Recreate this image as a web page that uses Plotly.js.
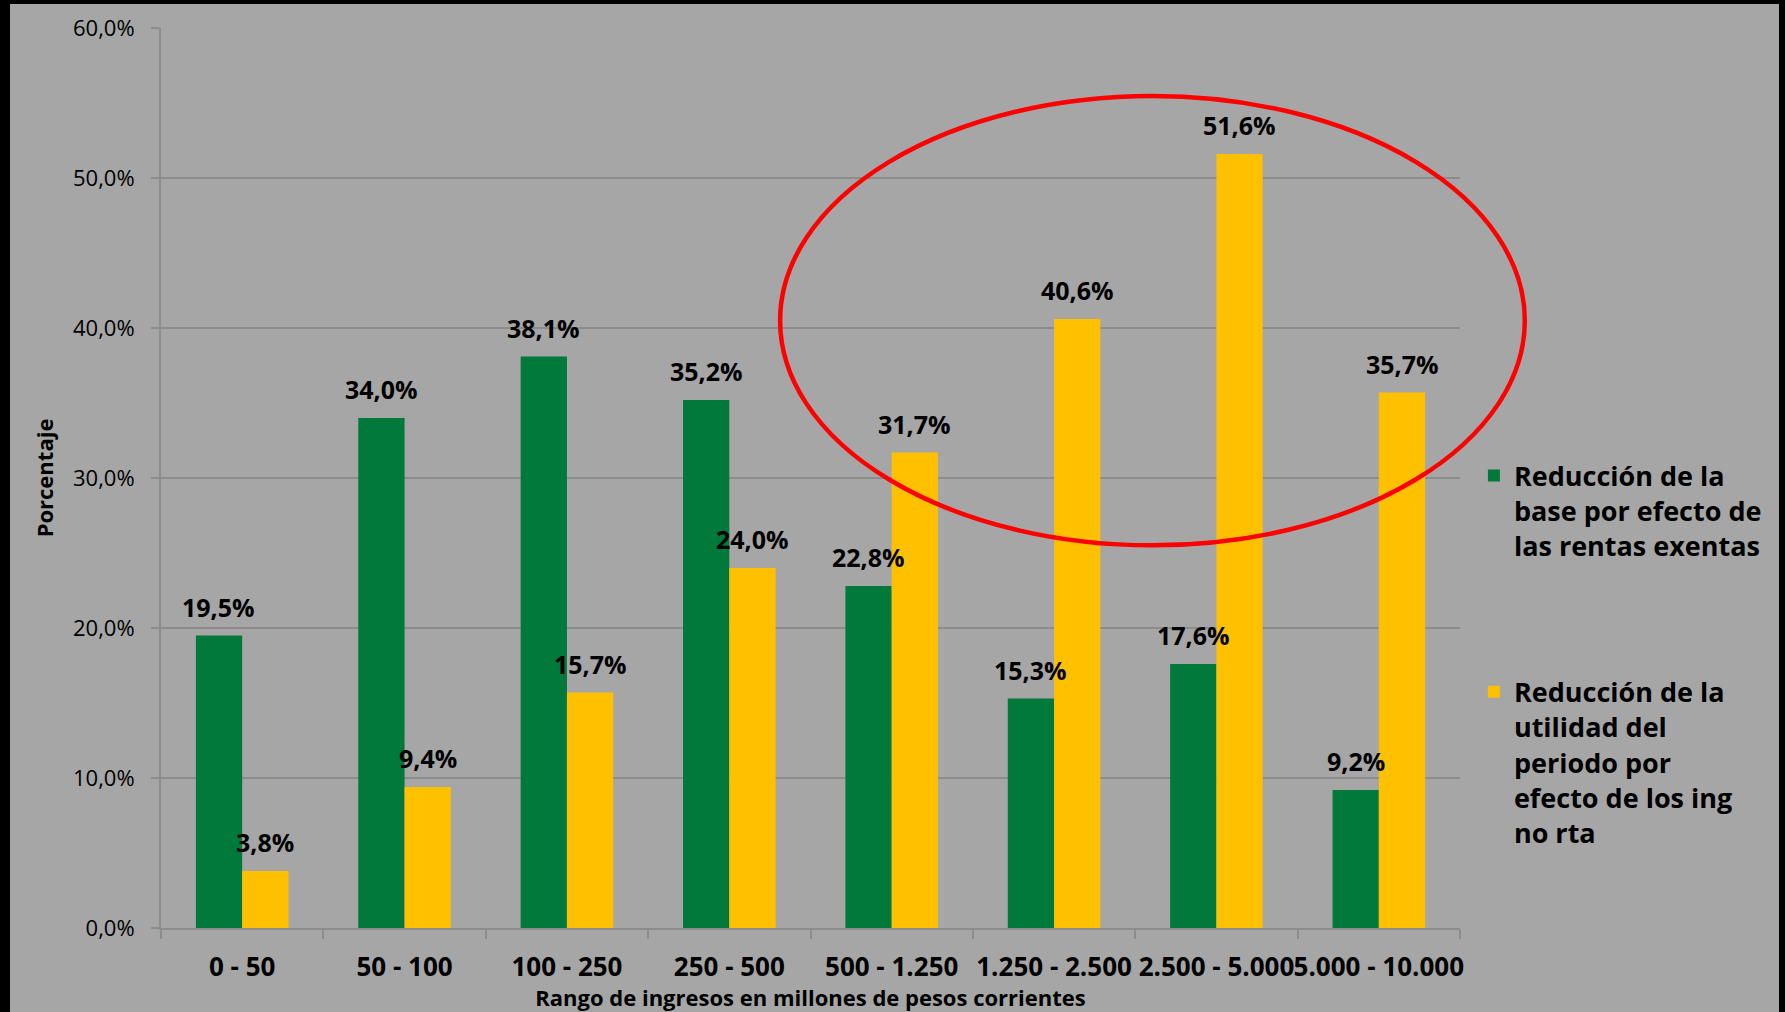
<!DOCTYPE html>
<html>
<head>
<meta charset="utf-8">
<script src="https://cdn.plot.ly/plotly-3.0.1.min.js"></script>
<style>
  html, body { margin: 0; padding: 0; background: #000; width: 1785px; height: 1012px; overflow: hidden; }
  #chart { position: absolute; left: 10px; top: 4px; width: 1769px; height: 1008px; }
</style>
</head>
<body>
<div id="chart"></div>
<script>
// ---- Data ----
const categories = ["0 - 50", "50 - 100", "100 - 250", "250 - 500", "500 - 1.250", "1.250 - 2.500", "2.500 - 5.000", "5.000 - 10.000"];
const seriesBaseName = "Reducción de la<br>base por efecto de<br>las rentas exentas";
const seriesBaseValues = [19.5, 34.0, 38.1, 35.2, 22.8, 15.3, 17.6, 9.2];
const seriesUtilName = "Reducción de la<br>utilidad del<br>periodo por<br>efecto de los ing<br>no rta";
const seriesUtilValues = [3.8, 9.4, 15.7, 24.0, 31.7, 40.6, 51.6, 35.7];
const yTickValues = [0, 10, 20, 30, 40, 50, 60];

// ---- Styles ----
const GREEN = "#00793A";
const YELLOW = "#FFC000";
const GRID = "#8C8C8C";
const BG = "#A6A6A6";
const FONT = "'Open Sans', 'DejaVu Sans', sans-serif";

function fmt(v) { return v.toFixed(1).replace(".", ",") + "%"; }

const traces = [
  { type: "bar", name: seriesBaseName, x: categories, y: seriesBaseValues,
    marker: { color: GREEN }, legendgroup: "g1", hoverinfo: "x+y" },
  { type: "bar", name: seriesUtilName, x: categories, y: seriesUtilValues,
    marker: { color: YELLOW }, legendgroup: "g2", hoverinfo: "x+y" }
];

// data labels via annotations, positioned by the axes
const BAR_OFFSET = 23.2;
const annotations = [];
[[seriesBaseValues, -BAR_OFFSET], [seriesUtilValues, BAR_OFFSET]].forEach(([vals, dx]) => {
  vals.forEach((v, i) => {
    annotations.push({
      x: categories[i], y: v, xref: "x", yref: "y",
      text: "<b>" + fmt(v) + "</b>", showarrow: false,
      xanchor: "center", yanchor: "middle",
      xshift: dx, yshift: 29,
      font: { family: FONT, size: 25, color: "#000" }
    });
  });
});

const layout = {
  width: 1769, height: 1008,
  paper_bgcolor: BG, plot_bgcolor: BG,
  separators: ",.",
  margin: { l: 151, r: 315, t: 24, b: 84 },
  font: { family: FONT, color: "#000" },
  barmode: "group", bargap: 0.43, bargroupgap: 0,
  xaxis: {
    type: "category",
    tickangle: 0,
    showgrid: false,
    showline: true, linecolor: GRID, linewidth: 2,
    ticks: "outside", ticklen: 9, tickcolor: GRID, tickwidth: 2,
    tickson: "boundaries",
    ticklabelstandoff: 15,
    tickfont: { family: FONT, size: 26, color: "#000", weight: "bold" },
    title: { text: "<b>Rango de ingresos en millones de pesos corrientes</b>",
             font: { family: FONT, size: 22, color: "#000" }, standoff: 6 }
  },
  yaxis: {
    range: [0, 60],
    tickmode: "array",
    tickvals: yTickValues,
    ticktext: yTickValues.map(fmt),
    showgrid: true, gridcolor: GRID, gridwidth: 2,
    showline: true, linecolor: GRID, linewidth: 2,
    zeroline: false,
    ticks: "outside", ticklen: 8, tickcolor: GRID, tickwidth: 2,
    ticklabelstandoff: 12,
    tickfont: { family: FONT, size: 22, color: "#000" },
    title: { text: "<b>Porcentaje</b>", font: { family: FONT, size: 22, color: "#000" }, standoff: 13 }
  },
  showlegend: true,
  legend: {
    x: 1.0107, xanchor: "left", y: 0.5295, yanchor: "top",
    bgcolor: "rgba(0,0,0,0)",
    traceorder: "grouped", tracegroupgap: 108, valign: "top",
    font: { family: FONT, size: 27, color: "#000", weight: "bold" }
  },
  annotations: annotations,
  shapes: [{
    type: "circle", xref: "paper", yref: "paper",
    x0: 0.4766, x1: 1.0499, y0: 0.4252, y1: 0.9244,
    line: { color: "#FF0000", width: 4.5 }, fillcolor: "rgba(0,0,0,0)", layer: "above"
  }]
};

Plotly.newPlot("chart", traces, layout, { displayModeBar: false, staticPlot: true });
</script>
</body>
</html>
